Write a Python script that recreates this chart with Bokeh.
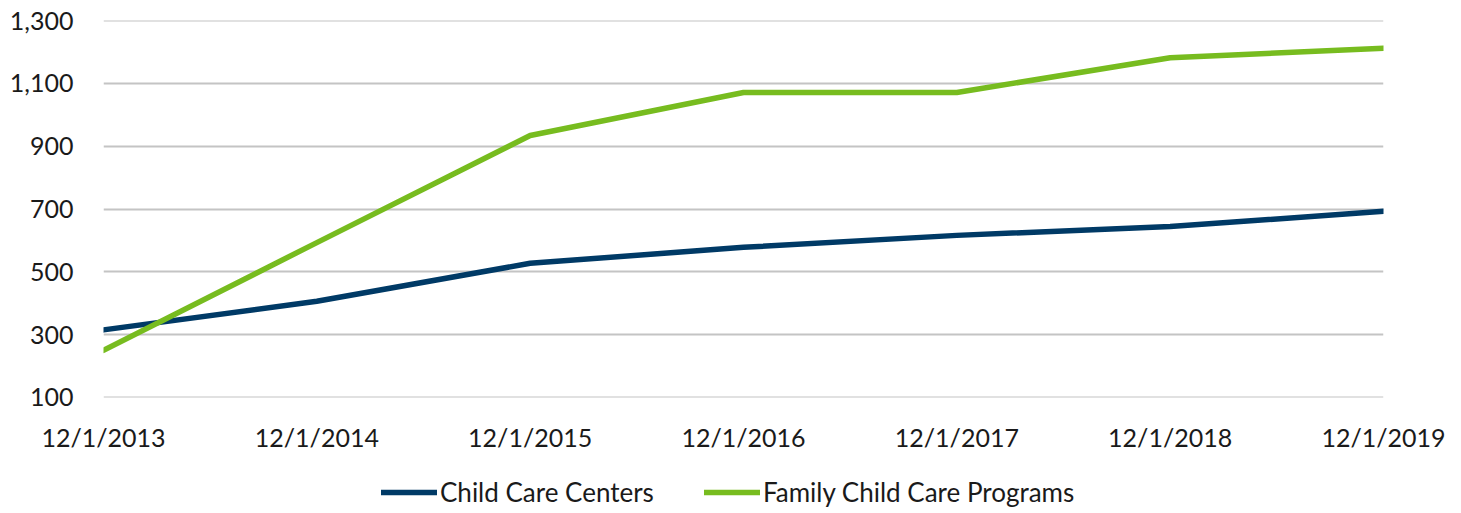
from bokeh.plotting import figure
from bokeh.layouts import column
from bokeh.models import Range1d, FixedTicker, Legend, LegendItem, NumeralTickFormatter
from bokeh.embed import file_html
from bokeh.resources import INLINE

dates = ["12/1/2013", "12/1/2014", "12/1/2015", "12/1/2016", "12/1/2017", "12/1/2018", "12/1/2019"]
centers = [315, 406, 527, 578, 616, 644, 693]
family = [250, 593, 934, 1071, 1071, 1182, 1212]
y_ticks = [100, 300, 500, 700, 900, 1100, 1300]
series_names = ["Child Care Centers", "Family Child Care Programs"]
series_colors = ["#003a66", "#77bc1f"]

xs = list(range(len(dates)))
FONT = "Lato"

p = figure(frame_width=1280, frame_height=377, output_backend="svg", toolbar_location=None,
           x_range=Range1d(0, len(dates) - 1), y_range=Range1d(99.6, 1300.4),
           min_border_left=103, min_border_right=70, min_border_top=20, min_border_bottom=70)
p.outline_line_color = None
p.background_fill_color = "white"
p.border_fill_color = "white"

for ax in (p.xaxis[0], p.yaxis[0]):
    ax.axis_line_color = None
    ax.major_tick_line_color = None
    ax.minor_tick_line_color = None
    ax.major_label_text_font = FONT
    ax.major_label_text_font_size = "25px"
    ax.major_label_text_color = "#1a1a1a"

p.xaxis.ticker = FixedTicker(ticks=xs)
p.xaxis.major_label_overrides = {i: d for i, d in enumerate(dates)}
p.xaxis.major_label_standoff = 18
p.yaxis.ticker = FixedTicker(ticks=y_ticks)
p.yaxis.formatter = NumeralTickFormatter(format="0,0")
p.yaxis.major_label_standoff = 24

p.xgrid.grid_line_color = None
p.ygrid.grid_line_color = "#c4c4c4"
p.ygrid.grid_line_width = 2
p.ygrid.ticker = FixedTicker(ticks=y_ticks)

p.line(xs, centers, line_color=series_colors[0], line_width=5.5, line_cap="round", line_join="round")
p.line(xs, family, line_color=series_colors[1], line_width=5.5, line_cap="round", line_join="round")

# legend strip below the chart (series drawn off-range there, only their legend glyphs show)
p2 = figure(width=1453, height=46, output_backend="svg", toolbar_location=None,
            x_range=Range1d(0, 1), y_range=Range1d(-2, -1),
            min_border_left=0, min_border_right=0, min_border_top=0, min_border_bottom=0)
p2.axis.visible = False
p2.grid.visible = False
p2.outline_line_color = None
p2.border_fill_color = "white"
lr = [p2.line(xs, vals, line_color=c, line_width=5.5, line_cap="round")
      for vals, c in zip([centers, family], series_colors)]

legend = Legend(items=[LegendItem(label=n, renderers=[r]) for n, r in zip(series_names, lr)],
                orientation="horizontal", location=(278, 5))
legend.label_text_font = FONT
legend.label_text_font_size = "26px"
legend.label_text_color = "#1a1a1a"
legend.glyph_width = 56
legend.glyph_height = 20
legend.label_height = 20
legend.label_standoff = 3
legend.spacing = 50
legend.border_line_color = None
legend.background_fill_alpha = 0
legend.margin = 0
legend.padding = 4
p2.add_layout(legend)

layout = column(p, p2, spacing=0)
open("out.html", "w").write(file_html(layout, INLINE))
